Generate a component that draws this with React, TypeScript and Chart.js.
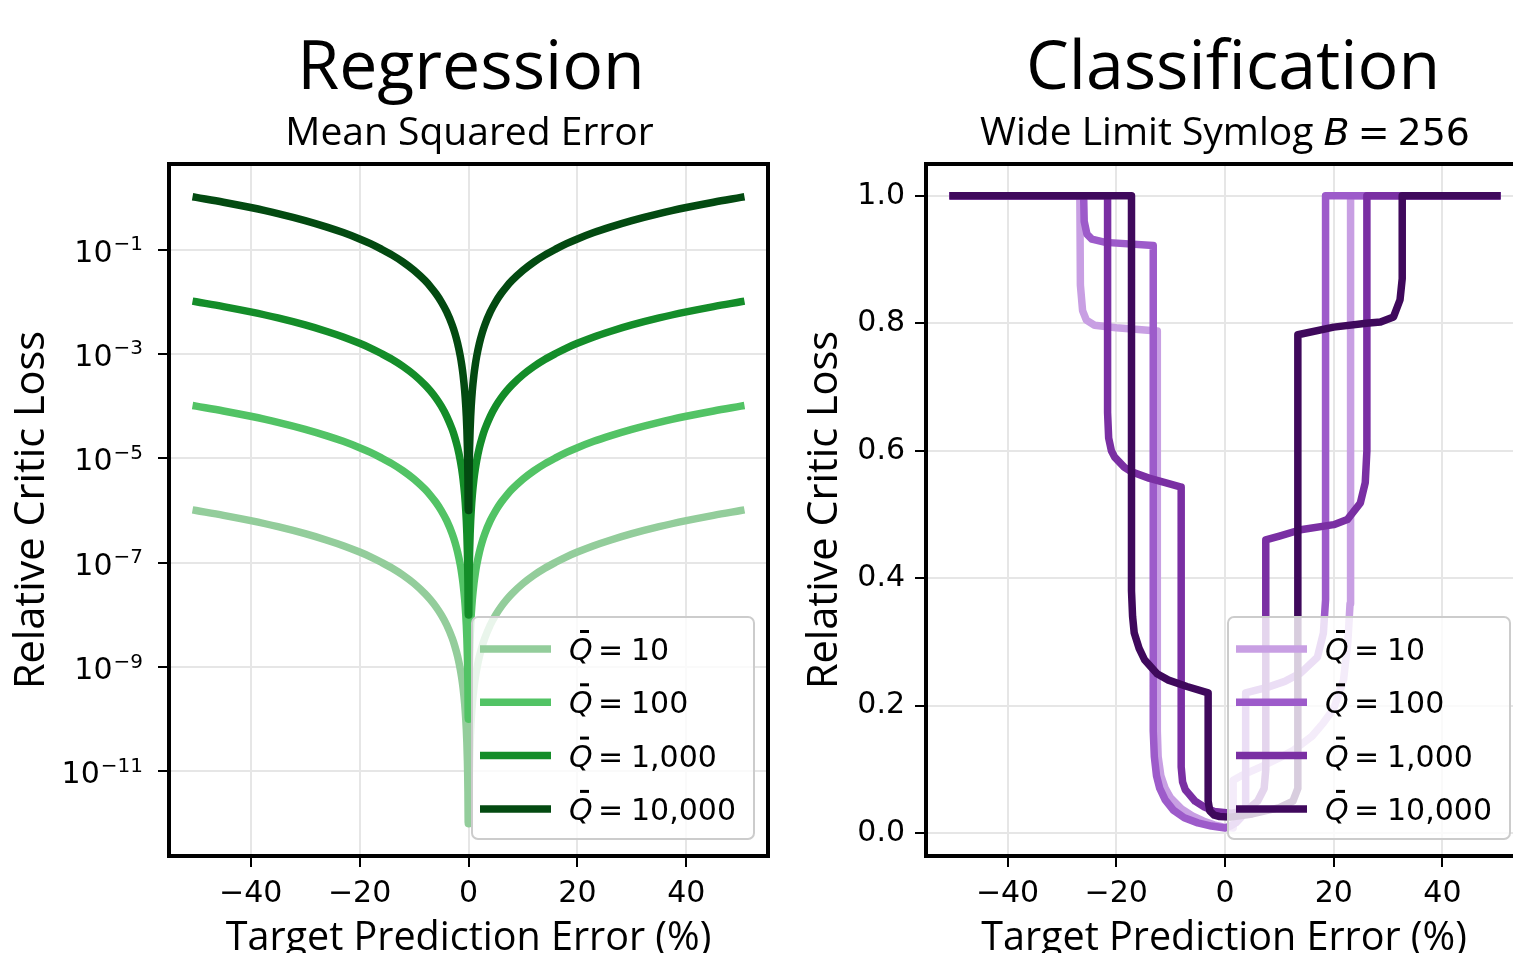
import React, { useEffect, useRef } from 'react';
import { Chart, registerables } from 'chart.js';

Chart.register(...registerables);

// ---------------- shared labels ----------------
const legendValues = ['10', '100', '1,000', '10,000'];
const greenColors = ['#93cd9b', '#52c365', '#148d29', '#034a11'];
const purpleColors = ['#c89fe3', '#9d5bca', '#7a2fa3', '#3f095c'];

const xTicks = [-40, -20, 0, 20, 40];
const xTickLabels = ['\u221240', '\u221220', '0', '20', '40'];

const regYTicks = [1e-1, 1e-3, 1e-5, 1e-7, 1e-9, 1e-11];
const regYTickBase = '10';
const regYTickExponents = ['\u22121', '\u22123', '\u22125', '\u22127', '\u22129', '\u221211'];

const clsYTicks = [0, 0.2, 0.4, 0.6, 0.8, 1.0];
const clsYTickLabels = ['0.0', '0.2', '0.4', '0.6', '0.8', '1.0'];

// ---------------- Regression (MSE), symmetric about 0: |error| and loss ----------------
const regAbsErr = [0.05, 0.1, 0.15, 0.2, 0.3, 0.4, 0.5, 0.7, 1, 1.25, 1.5, 2, 2.5, 3, 4, 5, 6, 7, 8, 10, 12, 14, 16, 18, 20, 23, 26, 30, 35, 40, 45, 50];
const regQ10 = [1e-12, 4e-12, 9e-12, 1.6e-11, 3.6e-11, 6.4e-11, 1e-10, 1.96e-10, 4e-10, 6.25e-10, 9e-10, 1.6e-9, 2.5e-9, 3.6e-9, 6.4e-9, 1e-8, 1.44e-8, 1.96e-8, 2.56e-8, 4e-8, 5.76e-8, 7.84e-8, 1.02e-7, 1.3e-7, 1.6e-7, 2.12e-7, 2.7e-7, 3.6e-7, 4.9e-7, 6.4e-7, 8.1e-7, 1e-6];
const regQ100 = [1e-10, 4e-10, 9e-10, 1.6e-9, 3.6e-9, 6.4e-9, 1e-8, 1.96e-8, 4e-8, 6.25e-8, 9e-8, 1.6e-7, 2.5e-7, 3.6e-7, 6.4e-7, 1e-6, 1.44e-6, 1.96e-6, 2.56e-6, 4e-6, 5.76e-6, 7.84e-6, 1.02e-5, 1.3e-5, 1.6e-5, 2.12e-5, 2.7e-5, 3.6e-5, 4.9e-5, 6.4e-5, 8.1e-5, 1e-4];
const regQ1000 = [1e-8, 4e-8, 9e-8, 1.6e-7, 3.6e-7, 6.4e-7, 1e-6, 1.96e-6, 4e-6, 6.25e-6, 9e-6, 1.6e-5, 2.5e-5, 3.6e-5, 6.4e-5, 1e-4, 1.44e-4, 1.96e-4, 2.56e-4, 4e-4, 5.76e-4, 7.84e-4, 1.02e-3, 1.3e-3, 1.6e-3, 2.12e-3, 2.7e-3, 3.6e-3, 4.9e-3, 6.4e-3, 8.1e-3, 1e-2];
const regQ10000 = [1e-6, 4e-6, 9e-6, 1.6e-5, 3.6e-5, 6.4e-5, 1e-4, 1.96e-4, 4e-4, 6.25e-4, 9e-4, 1.6e-3, 2.5e-3, 3.6e-3, 6.4e-3, 1e-2, 1.44e-2, 1.96e-2, 2.56e-2, 4e-2, 5.76e-2, 7.84e-2, 0.102, 0.13, 0.16, 0.212, 0.27, 0.36, 0.49, 0.64, 0.81, 1.0];

// ---------------- Classification (wide limit symlog, B = 256) ----------------
const clsQ10X = [-50, -26.7, -26.6, -26.2, -25.5, -24, -20, -12.45, -12.45, -12.3, -11.8, -11, -10, -8, -6, -4, -2, 0, 1.5, 1.5, 3, 6.6, 10, 12.6, 16, 18.1, 20, 21.8, 22.6, 23, 23.1, 23.1, 50];
const clsQ10Y = [1, 1, 0.86, 0.82, 0.805, 0.797, 0.793, 0.788, 0.16, 0.12, 0.09, 0.07, 0.055, 0.038, 0.027, 0.019, 0.013, 0.009, 0.008, 0.083, 0.09, 0.104, 0.118, 0.13, 0.152, 0.173, 0.195, 0.24, 0.3, 0.36, 0.42, 1, 1];

const clsQ100X = [-50, -26, -25.9, -25.4, -24.5, -22, -13.2, -13.2, -13.0, -12.6, -12, -11, -9.5, -7.5, -5, -2.5, 0, 1, 2, 3, 3.8, 3.8, 7.9, 11, 13.9, 17, 18.1, 18.5, 18.5, 50];
const clsQ100Y = [1, 1, 0.96, 0.94, 0.932, 0.927, 0.922, 0.16, 0.12, 0.09, 0.07, 0.052, 0.036, 0.024, 0.016, 0.011, 0.008, 0.011, 0.016, 0.025, 0.04, 0.22, 0.229, 0.238, 0.251, 0.276, 0.314, 0.366, 1, 1];

const clsQ1000X = [-50, -21.6, -21.6, -21.4, -20.9, -20.3, -18.5, -17.2, -14, -11, -8.06, -8.06, -7.8, -7.3, -6.8, -5.5, -3.85, -2, 1.1, 4, 6, 7.2, 7.5, 7.5, 10, 13.9, 20, 22.5, 24.9, 25.8, 26.1, 26.1, 50];
const clsQ1000Y = [1, 1, 0.66, 0.62, 0.6, 0.59, 0.574, 0.567, 0.557, 0.55, 0.543, 0.104, 0.08, 0.068, 0.063, 0.05, 0.041, 0.034, 0.031, 0.036, 0.05, 0.07, 0.1, 0.46, 0.466, 0.476, 0.484, 0.492, 0.518, 0.55, 0.6, 1, 1];

const clsQ10000X = [-50, -17.2, -17.2, -17.0, -16.7, -15.8, -14.8, -12.5, -10.4, -7, -3.1, -3.1, -2.8, -2.0, -1, 1, 5, 10, 12.5, 13.4, 13.4, 20, 26, 28.6, 31, 32.2, 32.6, 32.6, 50];
const clsQ10000Y = [1, 1, 0.38, 0.34, 0.314, 0.29, 0.272, 0.25, 0.24, 0.23, 0.22, 0.05, 0.035, 0.028, 0.026, 0.025, 0.03, 0.04, 0.05, 0.07, 0.782, 0.794, 0.8, 0.802, 0.81, 0.837, 0.87, 1, 1];

// ---------------- helpers ----------------
const toPts = (xs: number[], ys: number[]) => xs.map((x, i) => ({ x, y: ys[i] }));
const mirrorPts = (absErr: number[], vals: number[]) => {
  const neg = absErr.map((e, i) => ({ x: -e, y: vals[i] })).reverse();
  const pos = absErr.map((e, i) => ({ x: e, y: vals[i] }));
  return [...neg, ...pos];
};

const LINE_W = 7.5;
const CANVAS_H = 953;

function makeDataset(data: any[], color: string, order: number, smooth: boolean) {
  const ds: any = {
    data,
    borderColor: color,
    backgroundColor: color,
    borderWidth: LINE_W,
    pointRadius: 0,
    pointHoverRadius: 0,
    tension: 0,
    fill: false,
    borderJoinStyle: 'round',
    borderCapStyle: 'square',
    order,
  };
  if (smooth) ds.cubicInterpolationMode = 'monotone';
  return ds;
}

function drawLegend(ctx: CanvasRenderingContext2D, ca: any, colors: string[]) {
  const w = 282;
  const h = 222;
  const x0 = ca.right - 14 - w;
  const y0 = ca.bottom - 17 - h;
  ctx.save();
  ctx.beginPath();
  (ctx as any).roundRect(x0, y0, w, h, 6);
  ctx.fillStyle = 'rgba(255,255,255,0.8)';
  ctx.fill();
  ctx.strokeStyle = '#cccccc';
  ctx.lineWidth = 2;
  ctx.stroke();
  for (let i = 0; i < colors.length; i++) {
    const cy = y0 + 32 + i * 53.3;
    ctx.beginPath();
    ctx.strokeStyle = colors[i];
    ctx.lineWidth = LINE_W;
    ctx.lineCap = 'butt';
    ctx.moveTo(x0 + 8, cy);
    ctx.lineTo(x0 + 79, cy);
    ctx.stroke();
    const base = cy + 11;
    ctx.fillStyle = '#000';
    ctx.textAlign = 'left';
    ctx.textBaseline = 'alphabetic';
    ctx.font = 'italic 30px "DejaVu Sans"';
    ctx.fillText('Q', x0 + 97, base);
    ctx.fillRect(x0 + 108, cy - 19, 9, 3);
    ctx.font = '30px "DejaVu Sans"';
    ctx.fillText('=', x0 + 126, base);
    ctx.fillText(legendValues[i], x0 + 159, base);
  }
  ctx.restore();
}

type SubPart = { text: string; font: string; gapAfter?: number };
type PanelText = {
  titleX: number;
  subtitleX: number;
  title: string;
  subtitle: SubPart[];
  yLabelX: number;
  xLabelX: number;
  colors: string[];
  logLabels?: boolean;
};

function panelPlugin(t: PanelText) {
  return {
    id: 'panelDecor',
    afterDatasetsDraw(chart: any) {
      const { ctx, chartArea: ca } = chart;
      ctx.save();
      ctx.strokeStyle = '#000';
      ctx.lineWidth = 4;
      ctx.strokeRect(ca.left, ca.top, ca.right - ca.left, ca.bottom - ca.top);
      ctx.restore();
      drawLegend(ctx, ca, t.colors);
    },
    afterDraw(chart: any) {
      const { ctx, chartArea: ca } = chart;
      ctx.save();
      ctx.fillStyle = '#000';
      ctx.textBaseline = 'alphabetic';
      // log-axis tick labels with superscript exponents
      if (t.logLabels) {
        const ys = chart.scales.y;
        const rightX = ca.left - 26;
        regYTicks.forEach((v, i) => {
          const py = ys.getPixelForValue(v);
          ctx.textAlign = 'right';
          ctx.font = '20px "DejaVu Sans"';
          const exp = regYTickExponents[i];
          ctx.fillText(exp, rightX, py + 0.5);
          const ew = ctx.measureText(exp).width;
          ctx.font = '30px "DejaVu Sans"';
          ctx.fillText(regYTickBase, rightX - ew - 1, py + 12);
        });
      }
      // title
      ctx.font = '68px "Open Sans"';
      ctx.textAlign = 'center';
      ctx.fillText(t.title, t.titleX, 89);
      // subtitle (mixed fonts)
      let total = 0;
      const widths = t.subtitle.map((p) => {
        ctx.font = p.font;
        const w = ctx.measureText(p.text).width + (p.gapAfter || 0);
        total += w;
        return w;
      });
      let x = t.subtitleX - total / 2;
      ctx.textAlign = 'left';
      t.subtitle.forEach((p, i) => {
        ctx.font = p.font;
        ctx.fillText(p.text, x, 145);
        x += widths[i];
      });
      // x label
      ctx.font = '39.5px "Open Sans"';
      ctx.textAlign = 'center';
      ctx.fillText('Target Prediction Error (%)', t.xLabelX, 950);
      // y label
      ctx.font = '41.5px "Open Sans"';
      ctx.translate(t.yLabelX, (ca.top + ca.bottom) / 2);
      ctx.rotate(-Math.PI / 2);
      ctx.fillText('Relative Critic Loss', 0, 0);
      ctx.restore();
    },
  };
}

const tickFont = { family: 'DejaVu Sans', size: 30 };
const gridCfg = { color: '#e6e6e6', lineWidth: 2, tickLength: 11, tickColor: '#000', tickWidth: 2 };

function xScale() {
  return {
    type: 'linear',
    min: -55,
    max: 55,
    bounds: 'data',
    afterBuildTicks: (s: any) => {
      s.ticks = xTicks.map((v) => ({ value: v }));
    },
    afterFit: (s: any) => {
      s.height = CANVAS_H - 856;
    },
    grid: gridCfg,
    border: { display: false },
    ticks: {
      font: tickFont,
      color: '#000',
      padding: 9,
      maxRotation: 0,
      autoSkip: false,
      callback: (_v: any, i: number) => xTickLabels[i],
    },
  };
}

const commonOptions = {
  animation: false,
  responsive: false,
  devicePixelRatio: 1,
  plugins: { legend: { display: false }, tooltip: { enabled: false }, title: { display: false } },
  events: [],
};

function regressionConfig(): any {
  return {
    type: 'line',
    data: {
      datasets: [
        makeDataset(mirrorPts(regAbsErr, regQ10), greenColors[0], 3, true),
        makeDataset(mirrorPts(regAbsErr, regQ100), greenColors[1], 2, true),
        makeDataset(mirrorPts(regAbsErr, regQ1000), greenColors[2], 1, true),
        makeDataset(mirrorPts(regAbsErr, regQ10000), greenColors[3], 0, true),
      ],
    },
    options: {
      ...commonOptions,
      layout: { padding: { top: 164, right: 32, left: 0, bottom: 0 } },
      scales: {
        x: xScale(),
        y: {
          type: 'logarithmic',
          min: 2.4e-13,
          max: 4.37,
          bounds: 'data',
          afterBuildTicks: (s: any) => {
            s.ticks = regYTicks.map((v) => ({ value: v }));
          },
          afterFit: (s: any) => {
            s.width = 169;
          },
          grid: gridCfg,
          border: { display: false },
          ticks: {
            font: tickFont,
            color: '#000',
            padding: 10,
            autoSkip: false,
            callback: () => '',
          },
        },
      },
    },
    plugins: [
      panelPlugin({
        titleX: 471,
        subtitleX: 469.5,
        title: 'Regression',
        subtitle: [{ text: 'Mean Squared Error', font: '39px "Open Sans"' }],
        yLabelX: 44,
        xLabelX: 468.5,
        colors: greenColors,
        logLabels: true,
      }),
    ],
  };
}

const RIGHT_OFFSET = 790;

function classificationConfig(): any {
  return {
    type: 'line',
    data: {
      datasets: [
        makeDataset(toPts(clsQ10X, clsQ10Y), purpleColors[0], 3, false),
        makeDataset(toPts(clsQ100X, clsQ100Y), purpleColors[1], 2, false),
        makeDataset(toPts(clsQ1000X, clsQ1000Y), purpleColors[2], 1, false),
        makeDataset(toPts(clsQ10000X, clsQ10000Y), purpleColors[3], 0, false),
      ],
    },
    options: {
      ...commonOptions,
      layout: { padding: { top: 164, right: 26, left: 0, bottom: 0 } },
      scales: {
        x: xScale(),
        y: {
          type: 'linear',
          min: -0.036,
          max: 1.05,
          bounds: 'data',
          afterBuildTicks: (s: any) => {
            s.ticks = clsYTicks.map((v) => ({ value: v }));
          },
          afterFit: (s: any) => {
            s.width = 926 - RIGHT_OFFSET;
          },
          grid: gridCfg,
          border: { display: false },
          ticks: {
            font: tickFont,
            color: '#000',
            padding: 10,
            autoSkip: false,
            callback: (_v: any, i: number) => clsYTickLabels[i],
          },
        },
      },
    },
    plugins: [
      panelPlugin({
        titleX: 1233 - RIGHT_OFFSET,
        subtitleX: 1225 - RIGHT_OFFSET,
        title: 'Classification',
        subtitle: [
          { text: 'Wide Limit Symlog ', font: '39px "Open Sans"' },
          { text: 'B', font: 'italic 38px "DejaVu Sans"', gapAfter: 8 },
          { text: '=', font: '38px "DejaVu Sans"', gapAfter: 8 },
          { text: '256', font: '38px "DejaVu Sans"' },
        ],
        yLabelX: 837 - RIGHT_OFFSET,
        xLabelX: 1224 - RIGHT_OFFSET,
        colors: purpleColors,
      }),
    ],
  };
}

function Panel({ makeConfig, left, width }: { makeConfig: () => any; left: number; width: number }) {
  const ref = useRef<HTMLCanvasElement | null>(null);
  useEffect(() => {
    if (!ref.current) return;
    const chart = new Chart(ref.current, makeConfig());
    return () => chart.destroy();
  }, []);
  return (
    <canvas
      ref={ref}
      width={width}
      height={CANVAS_H}
      style={{ position: 'absolute', left, top: 0, width, height: CANVAS_H, display: 'block' }}
    />
  );
}

export default function App() {
  return (
    <div
      style={{
        position: 'fixed',
        left: 0,
        top: 0,
        width: 1513,
        height: CANVAS_H,
        overflow: 'hidden',
        background: '#ffffff',
      }}
    >
      <Panel makeConfig={regressionConfig} left={0} width={800} />
      <Panel makeConfig={classificationConfig} left={RIGHT_OFFSET} width={760} />
    </div>
  );
}
